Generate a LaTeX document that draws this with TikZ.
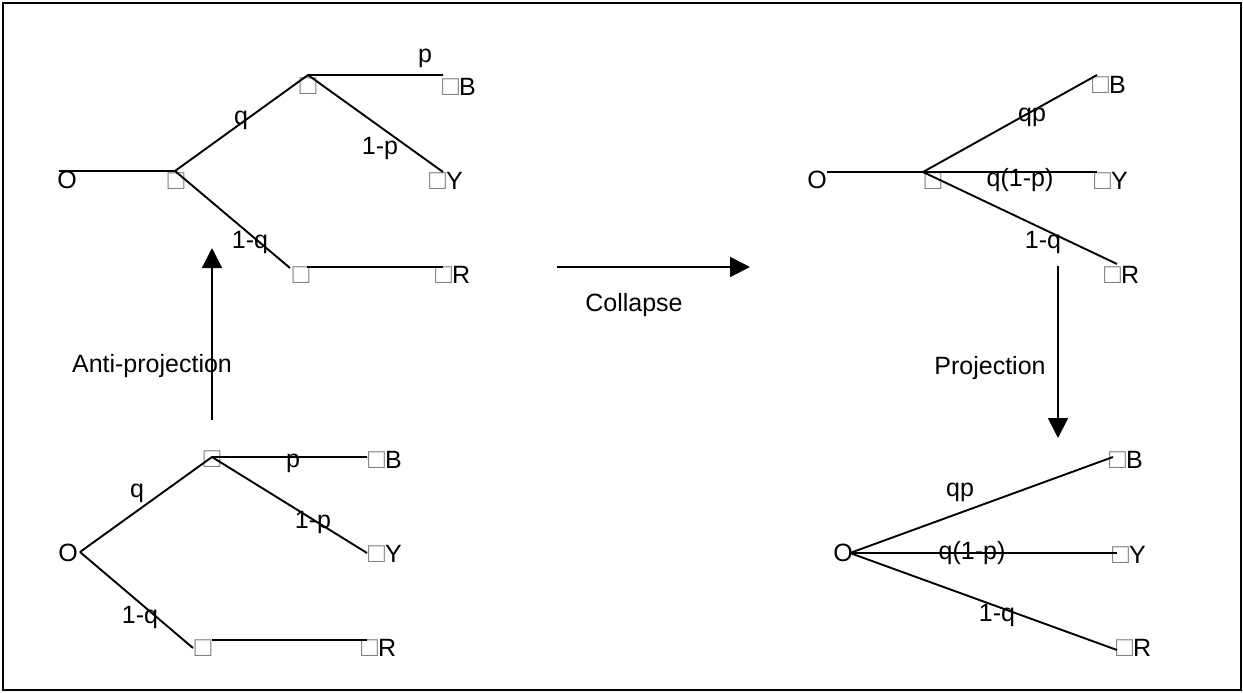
\documentclass[tikz,border=0pt]{standalone}
\usepackage{fontspec}
\setmainfont{Liberation Sans}
\usetikzlibrary{arrows.meta}
\tikzset{
  edge/.style={line width=1.9pt},
  lab/.style={inner sep=0pt, font=\fontsize{25}{28}\selectfont},
  leaf/.style={inner sep=0pt, anchor=west, font=\fontsize{25}{28}\selectfont},
  chance/.style={inner sep=0pt, text=gray, font=\fontsize{28}{30}\selectfont},
  bigarrow/.style={line width=1.9pt, -{Triangle[length=20pt,width=20pt]}}
}
\newcommand{\bx}{{\color{gray}\fontsize{28}{30}\selectfont □}}
\begin{document}
\begin{tikzpicture}[x=1pt,y=-1pt]
\useasboundingbox (0,0) rectangle (1243,693);
\draw[line width=2pt] (3,3) rectangle (1241,690);

% ---------- top-left tree ----------
\node[lab] (o1) at (67,180) {O};
\coordinate (s1) at (59,171);
\coordinate (c1) at (175,171);
\node[chance] (k1) at (176,181) {□};
\coordinate (n2) at (308,75);
\node[chance] (k2) at (308,86) {□};
\coordinate (eB1) at (443,75);
\node[leaf] (B1) at (442,87) {\bx B};
\coordinate (eY1) at (443,172);
\node[leaf] (Y1) at (429,181) {\bx Y};
\coordinate (n3) at (290,268);
\node[chance] (k3) at (301,275) {□};
\coordinate (n3r) at (307,267);
\coordinate (eR1) at (443,267);
\node[leaf] (R1) at (435,275) {\bx R};
\draw[edge] (s1) -- (c1) -- (n2) -- (eB1);
\draw[edge] (n2) -- (eY1);
\draw[edge] (c1) -- (n3);
\draw[edge] (n3r) -- (eR1);
\node[lab] (tlp) at (425,58) {p};
\node[lab] (tlq) at (241,120) {q};
\node[lab] (tl1p) at (380,148) {1-p};
\node[lab] (tl1q) at (250,242) {1-q};

% ---------- arrows ----------
\coordinate (apS) at (212,420);
\coordinate (apE) at (212,248);
\draw[bigarrow] (apS) -- (apE);
\node[lab] (aplab) at (152,366) {Anti-projection};
\coordinate (clS) at (557,267);
\coordinate (clE) at (750,267);
\draw[bigarrow] (clS) -- (clE);
\node[lab] (cllab) at (634,305) {Collapse};
\coordinate (prS) at (1058,266);
\coordinate (prE) at (1058,438);
\draw[bigarrow] (prS) -- (prE);
\node[lab] (prlab) at (990,368) {Projection};

% ---------- top-right tree ----------
\node[lab] (o2) at (817,180) {O};
\coordinate (s2) at (827,172);
\coordinate (c2) at (923,172);
\node[chance] (k4) at (933,181) {□};
\coordinate (eB2) at (1097,75);
\node[leaf] (B2) at (1092,85) {\bx B};
\coordinate (eY2) at (1097,172);
\node[leaf] (Y2) at (1094,181) {\bx Y};
\coordinate (eR2) at (1117,264);
\node[leaf] (R2) at (1104,275) {\bx R};
\draw[edge] (s2) -- (c2) -- (eB2);
\draw[edge] (c2) -- (eY2);
\draw[edge] (c2) -- (eR2);
\node[lab] (trqp) at (1032,117) {qp};
\node[lab] (trq1p) at (1020,180) {q(1-p)};
\node[lab] (tr1q) at (1043,242) {1-q};

% ---------- bottom-left tree ----------
\node[lab] (o3) at (68,553) {O};
\coordinate (v3) at (80,552);
\coordinate (m3) at (212,457);
\node[chance] (k5) at (212,459) {□};
\coordinate (eB3) at (367,457);
\node[leaf] (B3) at (368,460) {\bx B};
\coordinate (eY3) at (367,553);
\node[leaf] (Y3) at (368,554) {\bx Y};
\coordinate (m4) at (193,648);
\node[chance] (k6) at (203,648) {□};
\coordinate (m4r) at (212,640);
\coordinate (eR3) at (367,640);
\node[leaf] (R3) at (361,648) {\bx R};
\draw[edge] (v3) -- (m3) -- (eB3);
\draw[edge] (m3) -- (eY3);
\draw[edge] (v3) -- (m4);
\draw[edge] (m4r) -- (eR3);
\node[lab] (blq) at (137,493) {q};
\node[lab] (blp) at (293,463) {p};
\node[lab] (bl1p) at (313,522) {1-p};
\node[lab] (bl1q) at (140,617) {1-q};

% ---------- bottom-right tree ----------
\node[lab] (o4) at (843,553) {O};
\coordinate (v4) at (850,553);
\coordinate (eB4) at (1113,457);
\node[leaf] (B4) at (1109,460) {\bx B};
\coordinate (eY4) at (1117,553);
\node[leaf] (Y4) at (1112,555) {\bx Y};
\coordinate (eR4) at (1117,650);
\node[leaf] (R4) at (1116,648) {\bx R};
\draw[edge] (v4) -- (eB4);
\draw[edge] (v4) -- (eY4);
\draw[edge] (v4) -- (eR4);
\node[lab] (brqp) at (960,492) {qp};
\node[lab] (brq1p) at (972,553) {q(1-p)};
\node[lab] (br1q) at (997,615) {1-q};
\end{tikzpicture}
\end{document}
